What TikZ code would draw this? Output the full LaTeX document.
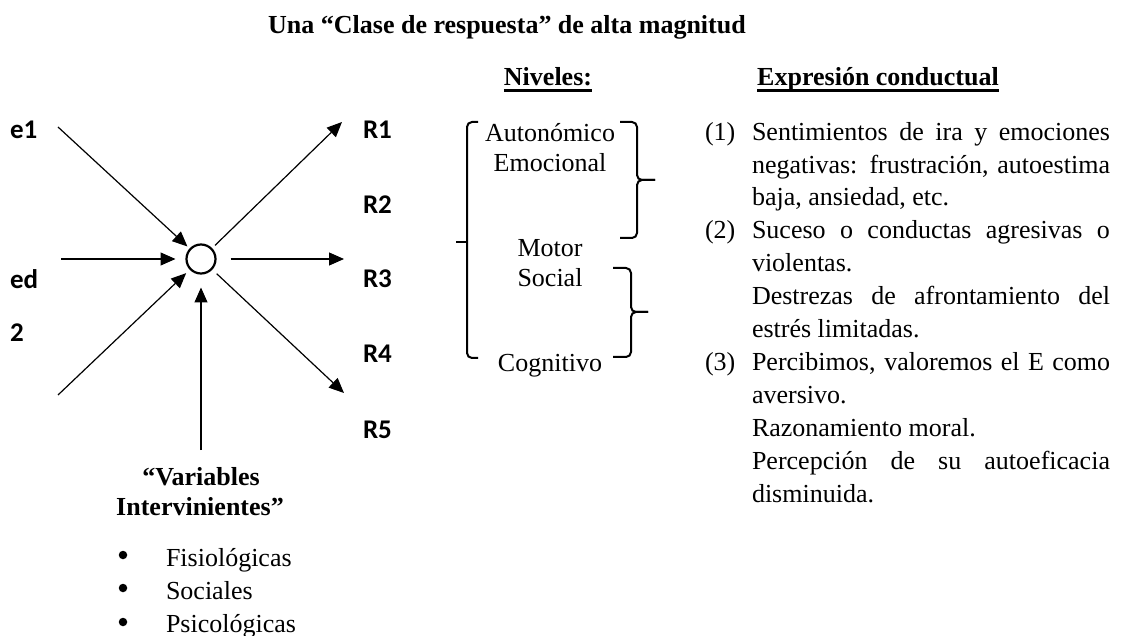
\documentclass[tikz,border=0pt]{standalone}
\usepackage{fontspec}
\setmainfont{Liberation Serif}
\newfontfamily\calib{Carlito}
\usetikzlibrary{arrows.meta}
\begin{document}
\begin{tikzpicture}[x=1pt,y=-1pt,
  every node/.style={inner sep=0pt, outer sep=0pt},
  txt/.style={font=\fontsize{26}{33}\selectfont, anchor=base west},
  ctr/.style={font=\fontsize{26}{33}\selectfont, anchor=base},
  hdr/.style={font=\bfseries\fontsize{26}{33}\selectfont, anchor=base},
  lbl/.style={font=\calib\bfseries\fontsize{27}{32}\selectfont, anchor=west},
  arr/.style={line width=1.2pt, -{Triangle[length=15pt,width=13pt]}},
  brk/.style={line width=2pt, rounded corners=5pt},
  uline/.style={line width=2.2pt},
  dot/.style={circle, fill=black, minimum size=8.5pt}]
\useasboundingbox (0,0) rectangle (1128,636);

% title and headers
\node[hdr] (title) at (507,34) {Una “Clase de respuesta” de alta magnitud};
\node[hdr] (niv) at (548,86) {Niveles:};
\node[hdr] (expr) at (878,86) {Expresión conductual};
\draw[uline] ([yshift=-4.5pt]niv.base west) -- ([yshift=-4.5pt]niv.base east);
\draw[uline] ([yshift=-4.5pt]expr.base west) -- ([yshift=-4.5pt]expr.base east);

% left labels
\node[lbl] (e1) at (10,130) {e1};
\node[lbl] (ed) at (10,279) {ed};
\node[lbl] (two) at (10,333) {2};
% right labels
\node[lbl] (R1) at (363,130) {R1};
\node[lbl] (R2) at (363,205) {R2};
\node[lbl] (R3) at (363,279) {R3};
\node[lbl] (R4) at (363,354) {R4};
\node[lbl] (R5) at (363,430) {R5};

% central circle
\node[circle, draw, line width=2.2pt, minimum size=29pt] (c) at (201,259) {};

% arrow ends
\coordinate (s1) at (58,127);
\coordinate (s2) at (61,259);
\coordinate (s3) at (58,395);
\coordinate (s4) at (201,450);
\coordinate (o1) at (342,122);
\coordinate (o2) at (344,259);
\coordinate (o3) at (344,393);

\draw[arr, shorten >=4pt] (s1) -- (c);
\draw[arr, shorten >=11pt] (s2) -- (c);
\draw[arr, shorten >=6pt] (s3) -- (c);
\draw[arr, shorten >=14pt] (s4) -- (c);
\draw[arr, shorten <=5pt] (c) -- (o1);
\draw[arr, shorten <=15pt] (c) -- (o2);
\draw[arr, shorten <=7pt] (c) -- (o3);

% intervening variables
\node[hdr] (v1) at (201,485) {“Variables};
\node[hdr] (v2) at (200,515) {Intervinientes”};
\node[dot] (b1) at (123,555) {};
\node[dot] (b2) at (123,588) {};
\node[dot] (b3) at (123,622) {};
\node[txt] (f1) at (166,566) {Fisiológicas};
\node[txt] (f2) at (166,599) {Sociales};
\node[txt] (f3) at (166,632) {Psicológicas};

% niveles
\node[ctr] (n1) at (550,142) {Autonómico};
\node[ctr] (n2) at (550,172) {Emocional};
\node[ctr] (n3) at (550,257) {Motor};
\node[ctr] (n4) at (550,287) {Social};
\node[ctr] (n5) at (550,372) {Cognitivo};

% brackets
\draw[brk] (478,122) -- (467,122) -- (467,358) -- (478,358);
\draw[line width=2pt] (467,242) -- (456,242);
\draw[brk] (620,122) -- (637,122) -- (637,180) -- (655,180);
\draw[brk] (655,180) -- (637,180) -- (637,238) -- (620,238);
\draw[brk] (613,268) -- (631,268) -- (631,312) -- (648,312);
\draw[brk] (648,312) -- (631,312) -- (631,357) -- (613,357);

% expression list
\node[txt] (p1) at (705,141) {(1)};
\node[txt] (l1) at (752,141) {\makebox[358pt][s]{Sentimientos de ira y emociones}};
\node[txt] (l2) at (752,174) {\makebox[358pt][s]{negativas: frustración, autoestima}};
\node[txt] (l3) at (752,206) {baja, ansiedad, etc.};
\node[txt] (p2) at (705,239) {(2)};
\node[txt] (l4) at (752,239) {\makebox[358pt][s]{Suceso o conductas agresivas o}};
\node[txt] (l5) at (752,272) {violentas.};
\node[txt] (l6) at (752,305) {\makebox[358pt][s]{Destrezas de afrontamiento del}};
\node[txt] (l7) at (752,338) {estrés limitadas.};
\node[txt] (p3) at (705,371) {(3)};
\node[txt] (l8) at (752,371) {\makebox[358pt][s]{Percibimos, valoremos el E como}};
\node[txt] (l9) at (752,404) {aversivo.};
\node[txt] (l10) at (752,436) {Razonamiento moral.};
\node[txt] (l11) at (752,469) {\makebox[358pt][s]{Percepción de su autoeficacia}};
\node[txt] (l12) at (752,502) {disminuida.};
\end{tikzpicture}
\end{document}
